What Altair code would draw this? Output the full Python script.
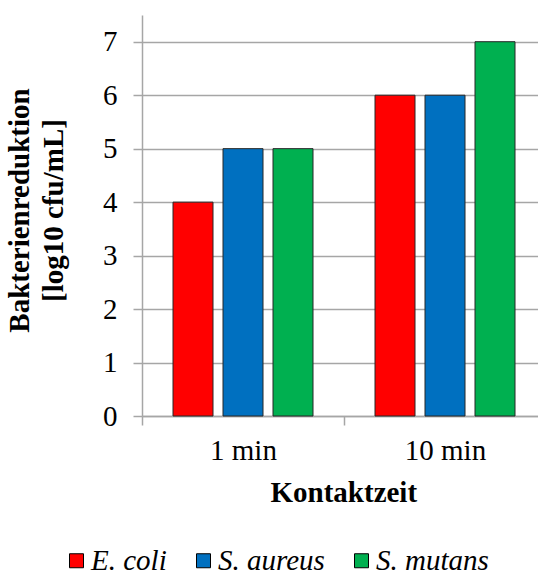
import altair as alt
import pandas as pd

# Reduction values per contact time and organism
contact_times = ["1 min", "10 min"]
species = ["E. coli", "S. aureus", "S. mutans"]
reduction_1min = [4, 5, 5]
reduction_10min = [6, 6, 7]
colors = ["#FF0000", "#0070C0", "#00B050"]
y_ticks = [0, 1, 2, 3, 4, 5, 6, 7]

rows = []
for t, vals in zip(contact_times, [reduction_1min, reduction_10min]):
    for s, v in zip(species, vals):
        rows.append({"Kontaktzeit": t, "Spezies": s, "Reduktion": v})
df = pd.DataFrame(rows)

FONT = "Liberation Serif"
GRID = "#a6a6a6"

bars = alt.Chart(df).mark_bar(stroke="#262626", strokeWidth=1).encode(
    x=alt.X(
        "Kontaktzeit:N",
        sort=contact_times,
        scale=alt.Scale(range=[0, 404], paddingInner=0, paddingOuter=0),
        axis=alt.Axis(
            title="Kontaktzeit",
            labelAngle=0,
            tickBand="extent",
            tickSize=9,
            tickColor=GRID,
            tickWidth=1.5,
            domainColor=GRID,
            domainWidth=1.5,
            labelFont=FONT,
            labelFontSize=29,
            labelColor="black",
            labelPadding=11,
            titleFont=FONT,
            titleFontSize=29,
            titleFontWeight="bold",
            titleColor="black",
            titlePadding=13,
            titleX=202 - 74,
            titleAnchor="start",
        ),
    ),
    xOffset=alt.XOffset(
        "Spezies:N",
        sort=species,
        scale=alt.Scale(paddingInner=0.2, paddingOuter=0.62),
    ),
    y=alt.Y(
        "Reduktion:Q",
        scale=alt.Scale(domain=[0, 7.5], nice=False),
        axis=alt.Axis(
            title=["Bakterienreduktion", "[log10 cfu/mL]"],
            values=y_ticks,
            format="d",
            grid=True,
            gridColor=GRID,
            gridWidth=1.5,
            tickSize=9,
            tickColor=GRID,
            tickWidth=1.5,
            domainColor=GRID,
            domainWidth=1.5,
            labelFont=FONT,
            labelFontSize=29,
            labelColor="black",
            labelPadding=16,
            titleFont=FONT,
            titleFontSize=29,
            titleFontWeight="bold",
            titleColor="black",
            titleLineHeight=34,
            titlePadding=34,
            titleY=195,
        ),
    ),
    color=alt.Color(
        "Spezies:N",
        sort=species,
        scale=alt.Scale(domain=species, range=colors),
        legend=alt.Legend(
            title=None,
            orient="none",
            direction="horizontal",
            legendX=-85,
            legendY=531,
            padding=0,
            symbolType="square",
            symbolSize=196,
            symbolOffset=5,
            symbolStrokeColor="black",
            symbolStrokeWidth=1,
            symbolOpacity=1,
            labelFont=FONT,
            labelFontSize=29,
            labelFontStyle="italic",
            labelColor="black",
            labelOffset=0,
            columnPadding=17,
            labelLimit=300,
        ),
    ),
)

chart = bars.properties(
    width=396,
    height=401,
    autosize=alt.AutoSizeParams(type="none"),
    padding={"left": 142, "top": 15, "right": 0, "bottom": 160},
    background="white",
).configure_view(stroke=None)

chart.save("out.html", embed_options={"renderer": "svg", "actions": False})
